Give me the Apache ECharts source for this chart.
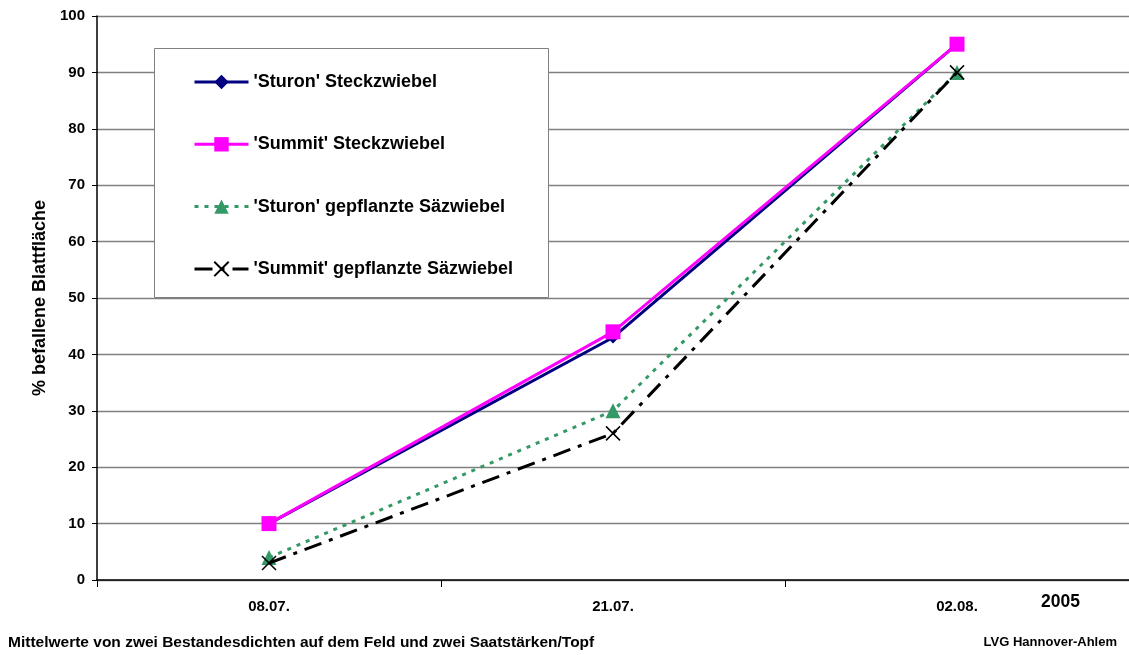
<!DOCTYPE html>
<html>
<head>
<meta charset="utf-8">
<script src="https://cdn.jsdelivr.net/npm/echarts@6/dist/echarts.min.js"></script>
<style>html,body{margin:0;padding:0;background:#fff;}#c{width:1129px;height:655px;}</style>
</head>
<body>
<div id="c"></div>
<script>
const categories = ['08.07.', '21.07.', '02.08.'];
const sturonSteck = [10, 43, 95];
const summitSteck = [10, 44, 95];
const sturonGepfl = [4, 30, 90];
const summitGepfl = [3, 26, 90];
const yTicks = [0, 10, 20, 30, 40, 50, 60, 70, 80, 90, 100];

const FONT = '"Liberation Sans", Arial, sans-serif';
const chart = echarts.init(document.getElementById('c'), null, {renderer: 'canvas'});
chart.setOption({
  animation: false,
  backgroundColor: '#fff',
  grid: {left: 97, right: 0, top: 16, bottom: 75, containLabel: false},
  graphic: [
    {type: 'rect', z: 3, shape: {x: 154.5, y: 48.5, width: 394, height: 249}, style: {fill: '#fff', stroke: '#808080', lineWidth: 1}},
    {type: 'text', z: 3, left: 1041, top: 593, style: {text: '2005', font: 'bold 17.5px ' + FONT, fill: '#000'}},
    {type: 'text', z: 3, left: 8, top: 635, style: {text: 'Mittelwerte von zwei Bestandesdichten auf dem Feld und zwei Saatstärken/Topf', font: 'bold 15.5px ' + FONT, fill: '#000'}},
    {type: 'text', z: 3, right: 12, top: 636, style: {text: 'LVG Hannover-Ahlem', font: 'bold 13px ' + FONT, fill: '#000'}}
  ],
  legend: {
    z: 10,
    orient: 'vertical',
    left: 188,
    top: 68,
    padding: 5,
    itemWidth: 54,
    itemHeight: 18,
    itemGap: 44.3,
    lineStyle: {width: 3},
    textStyle: {fontFamily: FONT, fontWeight: 'bold', fontSize: 18, color: '#000'},
    data: ["'Sturon' Steckzwiebel", "'Summit' Steckzwiebel", "'Sturon' gepflanzte Säzwiebel", "'Summit' gepflanzte Säzwiebel"]
  },
  xAxis: {
    type: 'category',
    data: categories,
    boundaryGap: true,
    axisLine: {lineStyle: {color: '#000', width: 1.5}},
    axisTick: {show: true, length: 7, lineStyle: {color: '#000'}},
    axisLabel: {fontFamily: FONT, fontWeight: 'bold', fontSize: 15, color: '#000', margin: 19}
  },
  yAxis: {
    type: 'value',
    min: 0, max: 100, interval: 10,
    name: '% befallene Blattfläche',
    nameLocation: 'middle',
    nameGap: 48,
    nameRotate: 90,
    nameTextStyle: {fontFamily: FONT, fontWeight: 'bold', fontSize: 18, color: '#000'},
    axisLine: {show: true, lineStyle: {color: '#000', width: 1.5}},
    axisTick: {show: true, length: 5, lineStyle: {color: '#000'}},
    axisLabel: {fontFamily: FONT, fontWeight: 'bold', fontSize: 15, color: '#000', margin: 12,
      formatter: v => yTicks.includes(v) ? String(v) : ''},
    splitLine: {show: true, lineStyle: {color: '#808080', width: 1.3}}
  },
  series: [
    {name: "'Sturon' Steckzwiebel", type: 'line', data: sturonSteck, symbol: 'diamond', symbolSize: 12,
      lineStyle: {color: '#000080', width: 3}, itemStyle: {color: '#000080'}, z: 3},
    {name: "'Summit' Steckzwiebel", type: 'line', data: summitSteck, symbol: 'rect', symbolSize: 15,
      lineStyle: {color: '#FF00FF', width: 3}, itemStyle: {color: '#FF00FF'}, z: 4},
    {name: "'Sturon' gepflanzte Säzwiebel", type: 'line', data: sturonGepfl, symbol: 'triangle', symbolSize: 15,
      lineStyle: {color: '#339966', width: 3, type: [4, 6]}, itemStyle: {color: '#339966'}, z: 5},
    {name: "'Summit' gepflanzte Säzwiebel", type: 'line', data: summitGepfl, symbol: 'path://M0,0L10,10M10,0L0,10', symbolSize: 14,
      lineStyle: {color: '#000', width: 3, type: [18, 8, 4, 8]}, itemStyle: {color: '#000', borderColor: '#000', borderWidth: 1.5}, z: 6}
  ]
});
</script>
</body>
</html>
